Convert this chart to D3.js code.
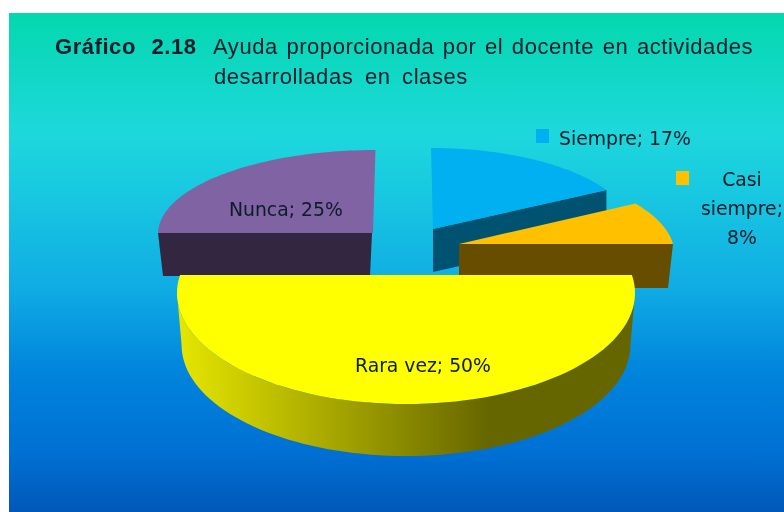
<!DOCTYPE html>
<html><head><meta charset="utf-8">
<script src="https://cdn.jsdelivr.net/npm/d3@7"></script>
<style>html,body{margin:0;padding:0;background:#fff;overflow:hidden}svg{display:block}
text{fill:#0a1c2a}</style></head><body>
<svg id="c" width="784" height="512"></svg>
<script>
const categories = ["Siempre","Casi siempre","Rara vez","Nunca"];
const values = [17,8,50,25];
const titleBold = "Gráfico 2.18";
const titleLines = ["Ayuda proporcionada por el docente en actividades","desarrolladas en clases"];
const colors = ["#00b0f0","#ffc000","#ffff00","#8064a2"];
const sideColors = ["#005370","#664d00","#666600","#332840"];
// per-slice geometry of the exploded 3D pie (sh = perspective shear, over = extra sweep past the cut)
const geo = [
 {cx:433,cy:229,rx:199,ry:81,dx:0,dy:43,bs:1,sh:0.024,over:0},
 {cx:459,cy:244,rx:214,ry:84,dx:-3,dy:44,bs:0.98,sh:0.27,over:0},
 {cx:406,cy:293,rx:229,ry:111,dx:0,dy:52,bs:0.98,sh:0,over:0.163},
 {cx:373,cy:233,rx:215,ry:83,dx:-1,dy:43,bs:0.98,sh:-0.03,over:0}
];
const svg = d3.select("#c");
const defs = svg.append("defs");
const bg = defs.append("linearGradient").attr("id","bg").attr("x1",0).attr("x2",0).attr("y1",0).attr("y2",1);
[[0,"#04d8ae"],[0.24,"#1dd8dc"],[0.36,"#18c8e0"],[0.55,"#10acE4"],[0.72,"#0084dc"],[0.88,"#0070d4"],[1,"#0058b8"]]
  .forEach(s=>bg.append("stop").attr("offset",s[0]).attr("stop-color",s[1]));
const wall = defs.append("linearGradient").attr("id","wall").attr("gradientUnits","userSpaceOnUse").attr("x1",178).attr("x2",635).attr("y1",0).attr("y2",0);
[[0,"#e6e600"],[0.68,"#666600"],[1,"#666600"]].forEach(s=>wall.append("stop").attr("offset",s[0]).attr("stop-color",s[1]));
const blur = defs.append("filter").attr("id","soft").attr("x",0).attr("y",0).attr("width",1).attr("height",1);
blur.append("feGaussianBlur").attr("stdDeviation",0.5);

svg.append("rect").attr("x",9).attr("y",13).attr("width",775).attr("height",499).attr("fill","url(#bg)");

const arcs = d3.pie().sort(null).value(d=>d).startAngle(0).endAngle(2*Math.PI)(values);
const line = d3.line();
const pt = (g,a,k=1,dx=0,dy=0)=>{
  const y=-g.ry*Math.cos(a);
  return [g.cx+dx+g.rx*k*Math.sin(a)+g.sh*y, g.cy+dy+y];
};
const steps = (a0,a1,n=80)=>d3.range(n+1).map(i=>a0+(a1-a0)*i/n);
const marks = svg.append("g").attr("filter","url(#soft)");

function drawSlice(i){
  const g=geo[i], a=arcs[i];
  const edge=steps(a.startAngle-g.over,a.endAngle+g.over).map(t=>pt(g,t));
  const top=g.over?edge:[[g.cx,g.cy],...edge];
  if(i===2){ // front rim
    const t=steps(a.startAngle,a.endAngle);
    const rim=[...t.map(x=>pt(g,x)),...t.slice().reverse().map(x=>pt(g,x,g.bs,g.dx,g.dy))];
    marks.append("path").attr("d",line(rim)+"Z").attr("fill","url(#wall)");
  } else if(i===0){ // cut face toward the viewer
    const e=pt(g,a.endAngle);
    marks.append("path").attr("d",line([[g.cx,g.cy],e,[e[0],e[1]+g.dy],[g.cx,g.cy+g.dy]])+"Z").attr("fill",sideColors[i]);
  } else if(i===1){
    const e=pt(g,a.endAngle);
    marks.append("path").attr("d",line([[g.cx,g.cy],e,[e[0]-5,e[1]+g.dy],[g.cx,g.cy+g.dy]])+"Z").attr("fill",sideColors[i]);
  } else {
    const s=pt(g,a.startAngle);
    marks.append("path").attr("d",line([[g.cx-1,g.cy],s,[s[0]+5,s[1]+g.dy],[g.cx-3,g.cy+g.dy]])+"Z").attr("fill",sideColors[i]);
  }
  marks.append("path").attr("d",line(top)+"Z").attr("fill",colors[i]);
}
[0,3,1,2].forEach(drawSlice);

// data labels
const labelFont="DejaVu Sans";
const labels=[
 {i:0,kx:536,ky:129,lines:[`${categories[0]}; ${values[0]}%`],x:559,y:145,anchor:"start"},
 {i:1,kx:676,ky:171,lines:["Casi","siempre;",`${values[1]}%`],x:742,y:186,anchor:"middle"},
 {i:2,kx:329,ky:356,lines:[`${categories[2]}; ${values[2]}%`],x:355,y:372,anchor:"start"},
 {i:3,kx:206,ky:200,lines:[`${categories[3]}; ${values[3]}%`],x:229,y:216,anchor:"start"}
];
const tg=svg.append("g").attr("filter","url(#soft)");
labels.forEach(l=>{
  tg.append("rect").attr("x",l.kx).attr("y",l.ky).attr("width",13).attr("height",14).attr("fill",colors[l.i]);
  const t=tg.append("text").attr("font-family",labelFont).attr("font-size",18.8).attr("text-anchor",l.anchor).attr("y",l.y);
  l.lines.forEach((s,j)=>t.append("tspan").attr("x",l.x).attr("dy",j?29:0).text(s));
});
const tt=svg.append("g").attr("filter","url(#soft)").attr("font-family","Liberation Sans").attr("font-size",22).attr("letter-spacing",0.55);
tt.append("text").attr("x",55).attr("y",54).attr("font-weight","bold").attr("word-spacing",9).text(titleBold);
tt.append("text").attr("x",213).attr("y",54).attr("word-spacing",2).text(titleLines[0]);
tt.append("text").attr("x",214).attr("y",84).attr("word-spacing",5).text(titleLines[1]);
</script></body></html>
